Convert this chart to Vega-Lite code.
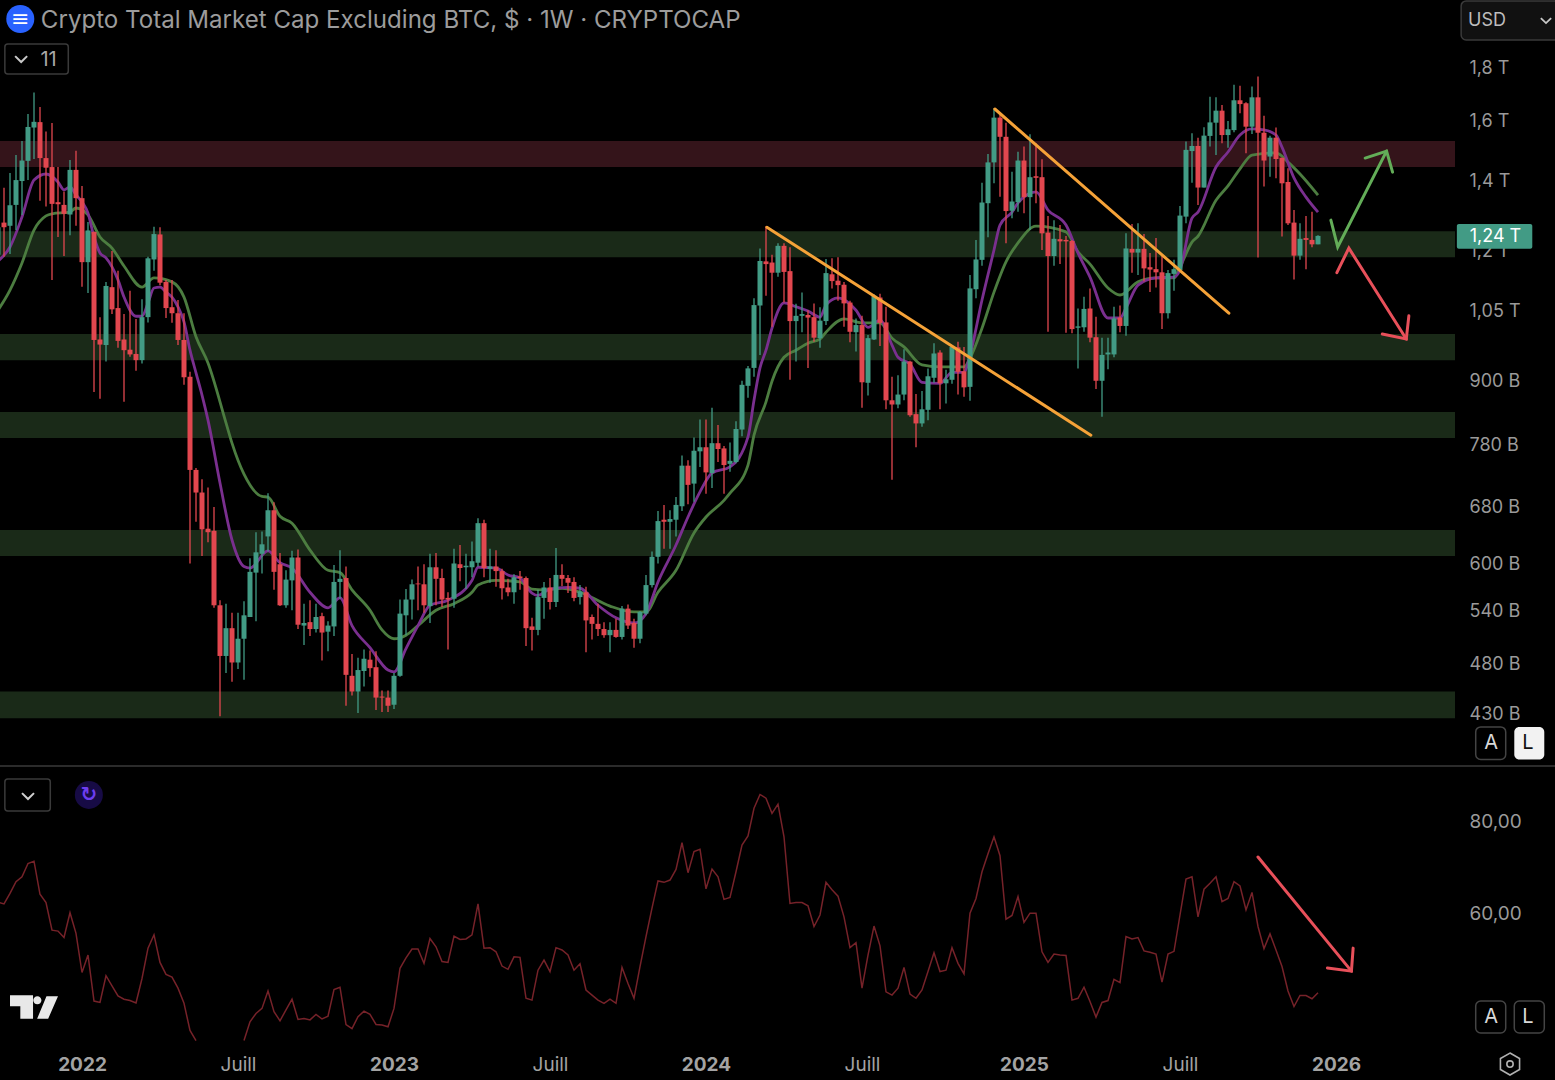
{
"$schema":"https://vega.github.io/schema/vega-lite/v6.json",
"width":1555,"height":1080,"autosize":{"type":"none"},"padding":0,"background":"#000000",
"datasets":{
"candles":[
{"d":"2021-09-27","o":1187,"h":1311,"l":1145,"c":1262,"rsi":62.3},
{"d":"2021-10-04","o":1275,"h":1377,"l":1182,"c":1262,"rsi":61.9},
{"d":"2021-10-11","o":1266,"h":1423,"l":1189,"c":1325,"rsi":64.2},
{"d":"2021-10-18","o":1326,"h":1481,"l":1254,"c":1401,"rsi":66.75},
{"d":"2021-10-25","o":1398,"h":1528,"l":1297,"c":1463,"rsi":67.8},
{"d":"2021-11-01","o":1462,"h":1622,"l":1401,"c":1576,"rsi":70.7},
{"d":"2021-11-08","o":1574,"h":1701,"l":1468,"c":1594,"rsi":71.2},
{"d":"2021-11-15","o":1593,"h":1647,"l":1338,"c":1471,"rsi":64.0},
{"d":"2021-11-22","o":1471,"h":1560,"l":1321,"c":1440,"rsi":62.2},
{"d":"2021-11-29","o":1442,"h":1590,"l":1123,"c":1329,"rsi":56.2},
{"d":"2021-12-06","o":1334,"h":1442,"l":1235,"c":1328,"rsi":56.0},
{"d":"2021-12-13","o":1326,"h":1366,"l":1184,"c":1300,"rsi":54.6},
{"d":"2021-12-20","o":1298,"h":1465,"l":1240,"c":1433,"rsi":60.0},
{"d":"2021-12-27","o":1433,"h":1495,"l":1266,"c":1346,"rsi":55.5},
{"d":"2022-01-03","o":1346,"h":1383,"l":1106,"c":1168,"rsi":47.0},
{"d":"2022-01-10","o":1168,"h":1277,"l":1091,"c":1253,"rsi":50.8},
{"d":"2022-01-17","o":1249,"h":1250,"l":876,"c":983,"rsi":40.8},
{"d":"2022-01-24","o":984,"h":1034,"l":863,"c":973,"rsi":40.5},
{"d":"2022-01-31","o":972,"h":1118,"l":937,"c":1108,"rsi":46.3},
{"d":"2022-02-07","o":1105,"h":1197,"l":1041,"c":1052,"rsi":44.1},
{"d":"2022-02-14","o":1055,"h":1146,"l":966,"c":981,"rsi":41.9},
{"d":"2022-02-21","o":984,"h":1041,"l":857,"c":961,"rsi":41.2},
{"d":"2022-02-28","o":962,"h":1096,"l":947,"c":952,"rsi":40.9},
{"d":"2022-03-07","o":953,"h":1030,"l":918,"c":940,"rsi":40.4},
{"d":"2022-03-14","o":940,"h":1076,"l":933,"c":1034,"rsi":45.7},
{"d":"2022-03-21","o":1034,"h":1182,"l":1022,"c":1178,"rsi":52.3},
{"d":"2022-03-28","o":1175,"h":1263,"l":1146,"c":1243,"rsi":55.2},
{"d":"2022-04-04","o":1242,"h":1262,"l":1110,"c":1116,"rsi":49.2},
{"d":"2022-04-11","o":1118,"h":1123,"l":1032,"c":1055,"rsi":46.6},
{"d":"2022-04-18","o":1057,"h":1123,"l":1021,"c":1043,"rsi":46.0},
{"d":"2022-04-25","o":1043,"h":1074,"l":972,"c":983,"rsi":43.6},
{"d":"2022-05-02","o":983,"h":1043,"l":890,"c":905,"rsi":40.3},
{"d":"2022-05-09","o":906,"h":916,"l":599,"c":737,"rsi":34.4},
{"d":"2022-05-16","o":737,"h":740,"l":657,"c":701,"rsi":32.2},
{"d":"2022-05-23","o":701,"h":722,"l":609,"c":646,"rsi":null},
{"d":"2022-05-30","o":647,"h":709,"l":628,"c":642,"rsi":null},
{"d":"2022-06-06","o":644,"h":679,"l":543,"c":546,"rsi":null},
{"d":"2022-06-13","o":546,"h":552,"l":427,"c":488,"rsi":null},
{"d":"2022-06-20","o":488,"h":548,"l":470,"c":519,"rsi":null},
{"d":"2022-06-27","o":519,"h":537,"l":461,"c":481,"rsi":null},
{"d":"2022-07-04","o":481,"h":537,"l":474,"c":507,"rsi":null},
{"d":"2022-07-11","o":507,"h":551,"l":463,"c":534,"rsi":32.2},
{"d":"2022-07-18","o":532,"h":606,"l":532,"c":588,"rsi":36.3},
{"d":"2022-07-25","o":587,"h":642,"l":527,"c":614,"rsi":38.1},
{"d":"2022-08-01","o":612,"h":643,"l":586,"c":625,"rsi":39.2},
{"d":"2022-08-08","o":636,"h":700,"l":615,"c":674,"rsi":43.0},
{"d":"2022-08-15","o":674,"h":686,"l":565,"c":588,"rsi":38.5},
{"d":"2022-08-22","o":598,"h":613,"l":545,"c":546,"rsi":36.5},
{"d":"2022-08-29","o":546,"h":590,"l":543,"c":578,"rsi":38.9},
{"d":"2022-09-05","o":577,"h":616,"l":540,"c":607,"rsi":41.2},
{"d":"2022-09-12","o":607,"h":618,"l":518,"c":523,"rsi":36.8},
{"d":"2022-09-19","o":522,"h":548,"l":500,"c":525,"rsi":37.0},
{"d":"2022-09-26","o":526,"h":552,"l":510,"c":518,"rsi":36.7},
{"d":"2022-10-03","o":518,"h":548,"l":514,"c":532,"rsi":37.9},
{"d":"2022-10-10","o":533,"h":537,"l":483,"c":514,"rsi":36.9},
{"d":"2022-10-17","o":515,"h":527,"l":493,"c":522,"rsi":37.5},
{"d":"2022-10-24","o":521,"h":597,"l":510,"c":575,"rsi":43.3},
{"d":"2022-10-31","o":575,"h":617,"l":554,"c":579,"rsi":43.8},
{"d":"2022-11-07","o":580,"h":595,"l":437,"c":468,"rsi":35.7},
{"d":"2022-11-14","o":467,"h":490,"l":447,"c":451,"rsi":34.8},
{"d":"2022-11-21","o":451,"h":486,"l":430,"c":473,"rsi":37.4},
{"d":"2022-11-28","o":472,"h":495,"l":456,"c":485,"rsi":38.6},
{"d":"2022-12-05","o":484,"h":494,"l":466,"c":475,"rsi":37.9},
{"d":"2022-12-12","o":476,"h":493,"l":433,"c":445,"rsi":35.7},
{"d":"2022-12-19","o":446,"h":452,"l":431,"c":445,"rsi":35.6},
{"d":"2022-12-26","o":445,"h":452,"l":431,"c":437,"rsi":35.2},
{"d":"2023-01-02","o":438,"h":470,"l":434,"c":467,"rsi":39.2},
{"d":"2023-01-09","o":467,"h":553,"l":466,"c":536,"rsi":47.9},
{"d":"2023-01-16","o":534,"h":566,"l":511,"c":553,"rsi":50.2},
{"d":"2023-01-23","o":553,"h":578,"l":529,"c":572,"rsi":52.1},
{"d":"2023-01-30","o":573,"h":595,"l":540,"c":572,"rsi":52.1},
{"d":"2023-02-06","o":572,"h":598,"l":537,"c":546,"rsi":49.0},
{"d":"2023-02-13","o":545,"h":612,"l":525,"c":594,"rsi":54.4},
{"d":"2023-02-20","o":594,"h":613,"l":546,"c":579,"rsi":52.6},
{"d":"2023-02-27","o":580,"h":592,"l":544,"c":553,"rsi":49.4},
{"d":"2023-03-06","o":555,"h":562,"l":495,"c":553,"rsi":49.2},
{"d":"2023-03-13","o":554,"h":619,"l":543,"c":599,"rsi":54.9},
{"d":"2023-03-20","o":598,"h":624,"l":576,"c":593,"rsi":54.2},
{"d":"2023-03-27","o":594,"h":612,"l":566,"c":596,"rsi":54.3},
{"d":"2023-04-03","o":594,"h":629,"l":581,"c":602,"rsi":55.2},
{"d":"2023-04-10","o":600,"h":662,"l":595,"c":655,"rsi":61.9},
{"d":"2023-04-17","o":655,"h":660,"l":581,"c":593,"rsi":52.3},
{"d":"2023-04-24","o":592,"h":619,"l":574,"c":595,"rsi":52.4},
{"d":"2023-05-01","o":595,"h":617,"l":569,"c":589,"rsi":51.5},
{"d":"2023-05-08","o":589,"h":592,"l":553,"c":567,"rsi":48.4},
{"d":"2023-05-15","o":568,"h":579,"l":557,"c":562,"rsi":47.7},
{"d":"2023-05-22","o":562,"h":585,"l":548,"c":581,"rsi":50.4},
{"d":"2023-05-29","o":582,"h":589,"l":565,"c":580,"rsi":50.3},
{"d":"2023-06-05","o":580,"h":582,"l":499,"c":519,"rsi":41.4},
{"d":"2023-06-12","o":521,"h":531,"l":494,"c":517,"rsi":41.0},
{"d":"2023-06-19","o":517,"h":565,"l":511,"c":556,"rsi":47.5},
{"d":"2023-06-26","o":555,"h":575,"l":530,"c":568,"rsi":49.7},
{"d":"2023-07-03","o":568,"h":580,"l":541,"c":550,"rsi":47.2},
{"d":"2023-07-10","o":550,"h":620,"l":544,"c":584,"rsi":52.4},
{"d":"2023-07-17","o":584,"h":598,"l":570,"c":579,"rsi":51.9},
{"d":"2023-07-24","o":580,"h":584,"l":561,"c":574,"rsi":50.8},
{"d":"2023-07-31","o":575,"h":581,"l":551,"c":555,"rsi":47.5},
{"d":"2023-08-07","o":556,"h":571,"l":547,"c":563,"rsi":48.9},
{"d":"2023-08-14","o":562,"h":569,"l":492,"c":528,"rsi":43.2},
{"d":"2023-08-21","o":532,"h":535,"l":506,"c":524,"rsi":42.1},
{"d":"2023-08-28","o":524,"h":548,"l":510,"c":518,"rsi":41.0},
{"d":"2023-09-04","o":518,"h":526,"l":508,"c":511,"rsi":40.3},
{"d":"2023-09-11","o":511,"h":526,"l":492,"c":517,"rsi":41.2},
{"d":"2023-09-18","o":517,"h":530,"l":508,"c":509,"rsi":40.3},
{"d":"2023-09-25","o":509,"h":545,"l":506,"c":542,"rsi":48.1},
{"d":"2023-10-02","o":542,"h":547,"l":518,"c":522,"rsi":44.6},
{"d":"2023-10-09","o":525,"h":530,"l":497,"c":507,"rsi":41.4},
{"d":"2023-10-16","o":507,"h":539,"l":502,"c":538,"rsi":48.3},
{"d":"2023-10-23","o":536,"h":584,"l":534,"c":571,"rsi":54.8},
{"d":"2023-10-30","o":571,"h":615,"l":568,"c":608,"rsi":61.0},
{"d":"2023-11-06","o":608,"h":673,"l":599,"c":658,"rsi":66.9},
{"d":"2023-11-13","o":660,"h":682,"l":619,"c":657,"rsi":66.6},
{"d":"2023-11-20","o":657,"h":674,"l":619,"c":661,"rsi":67.1},
{"d":"2023-11-27","o":660,"h":694,"l":636,"c":682,"rsi":69.4},
{"d":"2023-12-04","o":680,"h":761,"l":673,"c":744,"rsi":75.2},
{"d":"2023-12-11","o":744,"h":753,"l":683,"c":713,"rsi":68.7},
{"d":"2023-12-18","o":715,"h":792,"l":687,"c":769,"rsi":73.3},
{"d":"2023-12-25","o":768,"h":824,"l":742,"c":775,"rsi":73.8},
{"d":"2024-01-01","o":775,"h":824,"l":699,"c":733,"rsi":65.2},
{"d":"2024-01-08","o":732,"h":846,"l":708,"c":782,"rsi":69.5},
{"d":"2024-01-15","o":782,"h":814,"l":750,"c":772,"rsi":67.8},
{"d":"2024-01-22","o":773,"h":777,"l":699,"c":745,"rsi":62.9},
{"d":"2024-01-29","o":747,"h":783,"l":734,"c":752,"rsi":63.3},
{"d":"2024-02-05","o":750,"h":821,"l":748,"c":807,"rsi":68.9},
{"d":"2024-02-12","o":806,"h":898,"l":794,"c":890,"rsi":74.7},
{"d":"2024-02-19","o":888,"h":928,"l":865,"c":923,"rsi":76.7},
{"d":"2024-02-26","o":924,"h":1078,"l":906,"c":1062,"rsi":82.7},
{"d":"2024-03-04","o":1061,"h":1204,"l":951,"c":1171,"rsi":85.7},
{"d":"2024-03-11","o":1170,"h":1265,"l":1084,"c":1163,"rsi":84.9},
{"d":"2024-03-18","o":1167,"h":1187,"l":1012,"c":1141,"rsi":81.6},
{"d":"2024-03-25","o":1141,"h":1218,"l":1131,"c":1211,"rsi":83.6},
{"d":"2024-04-01","o":1211,"h":1218,"l":1068,"c":1143,"rsi":76.5},
{"d":"2024-04-08","o":1145,"h":1207,"l":900,"c":1025,"rsi":62.0},
{"d":"2024-04-15","o":1025,"h":1065,"l":937,"c":1037,"rsi":62.2},
{"d":"2024-04-22","o":1037,"h":1092,"l":1000,"c":1041,"rsi":62.2},
{"d":"2024-04-29","o":1039,"h":1050,"l":924,"c":1033,"rsi":61.5},
{"d":"2024-05-06","o":1034,"h":1066,"l":979,"c":988,"rsi":57.0},
{"d":"2024-05-13","o":987,"h":1057,"l":966,"c":1026,"rsi":59.5},
{"d":"2024-05-20","o":1025,"h":1176,"l":1016,"c":1140,"rsi":66.6},
{"d":"2024-05-27","o":1137,"h":1178,"l":1102,"c":1120,"rsi":65.0},
{"d":"2024-06-03","o":1121,"h":1181,"l":1072,"c":1110,"rsi":63.6},
{"d":"2024-06-10","o":1111,"h":1118,"l":1012,"c":1066,"rsi":59.1},
{"d":"2024-06-17","o":1068,"h":1072,"l":978,"c":1001,"rsi":52.4},
{"d":"2024-06-24","o":1000,"h":1031,"l":958,"c":1016,"rsi":53.5},
{"d":"2024-07-01","o":1016,"h":1037,"l":846,"c":895,"rsi":43.6},
{"d":"2024-07-08","o":894,"h":994,"l":869,"c":987,"rsi":50.8},
{"d":"2024-07-15","o":984,"h":1088,"l":983,"c":1084,"rsi":57.1},
{"d":"2024-07-22","o":1080,"h":1089,"l":970,"c":1021,"rsi":52.8},
{"d":"2024-07-29","o":1022,"h":1058,"l":843,"c":860,"rsi":42.8},
{"d":"2024-08-05","o":860,"h":906,"l":721,"c":852,"rsi":42.1},
{"d":"2024-08-12","o":852,"h":909,"l":845,"c":871,"rsi":43.6},
{"d":"2024-08-19","o":871,"h":963,"l":860,"c":937,"rsi":48.1},
{"d":"2024-08-26","o":937,"h":939,"l":829,"c":832,"rsi":42.3},
{"d":"2024-09-02","o":834,"h":872,"l":775,"c":817,"rsi":41.4},
{"d":"2024-09-09","o":817,"h":878,"l":811,"c":843,"rsi":43.2},
{"d":"2024-09-16","o":842,"h":923,"l":823,"c":907,"rsi":47.2},
{"d":"2024-09-23","o":904,"h":976,"l":894,"c":954,"rsi":51.3},
{"d":"2024-09-30","o":956,"h":961,"l":843,"c":893,"rsi":47.2},
{"d":"2024-10-07","o":893,"h":920,"l":854,"c":901,"rsi":47.5},
{"d":"2024-10-14","o":900,"h":972,"l":892,"c":968,"rsi":52.4},
{"d":"2024-10-21","o":967,"h":979,"l":871,"c":916,"rsi":49.0},
{"d":"2024-10-28","o":917,"h":968,"l":867,"c":885,"rsi":46.7},
{"d":"2024-11-04","o":886,"h":1135,"l":859,"c":1102,"rsi":59.9},
{"d":"2024-11-11","o":1100,"h":1227,"l":1078,"c":1175,"rsi":63.1},
{"d":"2024-11-18","o":1174,"h":1393,"l":1159,"c":1333,"rsi":68.9},
{"d":"2024-11-25","o":1331,"h":1484,"l":1234,"c":1457,"rsi":72.8},
{"d":"2024-12-02","o":1457,"h":1643,"l":1391,"c":1609,"rsi":76.5},
{"d":"2024-12-09","o":1609,"h":1618,"l":1350,"c":1542,"rsi":72.4},
{"d":"2024-12-16","o":1542,"h":1591,"l":1218,"c":1308,"rsi":58.6},
{"d":"2024-12-23","o":1309,"h":1427,"l":1287,"c":1336,"rsi":59.4},
{"d":"2024-12-30","o":1334,"h":1492,"l":1306,"c":1463,"rsi":63.5},
{"d":"2025-01-06","o":1463,"h":1509,"l":1302,"c":1349,"rsi":57.9},
{"d":"2025-01-13","o":1349,"h":1551,"l":1254,"c":1410,"rsi":59.9},
{"d":"2025-01-20","o":1413,"h":1520,"l":1331,"c":1408,"rsi":59.9},
{"d":"2025-01-27","o":1410,"h":1467,"l":1200,"c":1245,"rsi":51.5},
{"d":"2025-02-03","o":1247,"h":1294,"l":1001,"c":1184,"rsi":49.2},
{"d":"2025-02-10","o":1184,"h":1282,"l":1159,"c":1230,"rsi":51.0},
{"d":"2025-02-17","o":1229,"h":1268,"l":1163,"c":1223,"rsi":50.8},
{"d":"2025-02-24","o":1227,"h":1238,"l":999,"c":1223,"rsi":50.7},
{"d":"2025-03-03","o":1224,"h":1227,"l":998,"c":1007,"rsi":41.0},
{"d":"2025-03-10","o":1010,"h":1054,"l":923,"c":1013,"rsi":41.4},
{"d":"2025-03-17","o":1011,"h":1082,"l":1001,"c":1053,"rsi":43.8},
{"d":"2025-03-24","o":1054,"h":1102,"l":978,"c":988,"rsi":40.7},
{"d":"2025-03-31","o":989,"h":1035,"l":882,"c":898,"rsi":37.3},
{"d":"2025-04-07","o":898,"h":988,"l":829,"c":951,"rsi":40.5},
{"d":"2025-04-14","o":952,"h":988,"l":921,"c":956,"rsi":40.9},
{"d":"2025-04-21","o":952,"h":1058,"l":946,"c":1031,"rsi":45.5},
{"d":"2025-04-28","o":1033,"h":1061,"l":1000,"c":1014,"rsi":44.8},
{"d":"2025-05-05","o":1014,"h":1245,"l":992,"c":1204,"rsi":54.8},
{"d":"2025-05-12","o":1203,"h":1271,"l":1141,"c":1193,"rsi":54.3},
{"d":"2025-05-19","o":1193,"h":1273,"l":1135,"c":1203,"rsi":54.6},
{"d":"2025-05-26","o":1203,"h":1243,"l":1119,"c":1152,"rsi":51.7},
{"d":"2025-06-02","o":1155,"h":1192,"l":1093,"c":1149,"rsi":51.4},
{"d":"2025-06-09","o":1150,"h":1232,"l":1104,"c":1142,"rsi":51.0},
{"d":"2025-06-16","o":1142,"h":1189,"l":1007,"c":1043,"rsi":44.9},
{"d":"2025-06-23","o":1043,"h":1148,"l":1031,"c":1140,"rsi":51.0},
{"d":"2025-06-30","o":1138,"h":1174,"l":1096,"c":1150,"rsi":51.6},
{"d":"2025-07-07","o":1148,"h":1323,"l":1144,"c":1295,"rsi":59.5},
{"d":"2025-07-14","o":1292,"h":1526,"l":1273,"c":1498,"rsi":67.3},
{"d":"2025-07-21","o":1494,"h":1554,"l":1393,"c":1511,"rsi":67.8},
{"d":"2025-07-28","o":1511,"h":1539,"l":1326,"c":1378,"rsi":59.1},
{"d":"2025-08-04","o":1378,"h":1575,"l":1378,"c":1546,"rsi":65.1},
{"d":"2025-08-11","o":1545,"h":1685,"l":1509,"c":1592,"rsi":66.4},
{"d":"2025-08-18","o":1591,"h":1683,"l":1481,"c":1634,"rsi":67.8},
{"d":"2025-08-25","o":1634,"h":1655,"l":1520,"c":1548,"rsi":62.4},
{"d":"2025-09-01","o":1548,"h":1597,"l":1505,"c":1568,"rsi":63.1},
{"d":"2025-09-08","o":1565,"h":1731,"l":1558,"c":1672,"rsi":66.75},
{"d":"2025-09-15","o":1672,"h":1727,"l":1625,"c":1658,"rsi":65.8},
{"d":"2025-09-22","o":1661,"h":1665,"l":1487,"c":1577,"rsi":60.6},
{"d":"2025-09-29","o":1577,"h":1724,"l":1552,"c":1683,"rsi":64.4},
{"d":"2025-10-06","o":1683,"h":1762,"l":1180,"c":1556,"rsi":57.0},
{"d":"2025-10-13","o":1556,"h":1616,"l":1381,"c":1463,"rsi":52.2},
{"d":"2025-10-20","o":1476,"h":1546,"l":1411,"c":1539,"rsi":55.4},
{"d":"2025-10-27","o":1539,"h":1574,"l":1407,"c":1468,"rsi":51.9},
{"d":"2025-11-03","o":1472,"h":1472,"l":1236,"c":1391,"rsi":48.3},
{"d":"2025-11-10","o":1395,"h":1438,"l":1268,"c":1273,"rsi":43.0},
{"d":"2025-11-17","o":1275,"h":1311,"l":1124,"c":1185,"rsi":39.6},
{"d":"2025-11-24","o":1185,"h":1273,"l":1174,"c":1230,"rsi":42.0},
{"d":"2025-12-01","o":1232,"h":1294,"l":1150,"c":1227,"rsi":42.0},
{"d":"2025-12-08","o":1227,"h":1306,"l":1207,"c":1215,"rsi":41.3},
{"d":"2025-12-15","o":1215,"h":1240,"l":1215,"c":1238,"rsi":42.6}
],
"fast":[
{"d":"2021-09-27","v":1171},{"d":"2021-10-11","v":1208},{"d":"2021-10-25","v":1291},{"d":"2021-11-08","v":1401},{"d":"2021-11-22","v":1420},{"d":"2021-12-06","v":1395},{"d":"2021-12-13","v":1371},{"d":"2021-12-20","v":1380},{"d":"2021-12-27","v":1356},
{"d":"2022-01-03","v":1335},{"d":"2022-01-10","v":1302},{"d":"2022-01-17","v":1235},{"d":"2022-01-24","v":1192},{"d":"2022-01-31","v":1179},{"d":"2022-02-14","v":1123},{"d":"2022-02-21","v":1081},{"d":"2022-03-07","v":1036},{"d":"2022-03-14","v":1036},{"d":"2022-03-21","v":1067},{"d":"2022-03-28","v":1103},{"d":"2022-04-04","v":1105},{"d":"2022-04-11","v":1093},{"d":"2022-04-18","v":1081},{"d":"2022-04-25","v":1058},{"d":"2022-05-02","v":1023},{"d":"2022-05-09","v":961},{"d":"2022-05-16","v":914},{"d":"2022-05-23","v":870},{"d":"2022-05-30","v":823},{"d":"2022-06-13","v":716},{"d":"2022-06-27","v":631},{"d":"2022-07-11","v":595},{"d":"2022-07-18","v":593},{"d":"2022-08-08","v":616},{"d":"2022-08-22","v":600},{"d":"2022-09-05","v":593},{"d":"2022-09-26","v":562},{"d":"2022-10-17","v":543},{"d":"2022-10-31","v":555},{"d":"2022-11-14","v":522},{"d":"2022-12-05","v":497},{"d":"2022-12-26","v":473},
{"d":"2023-01-02","v":471},{"d":"2023-01-16","v":496},{"d":"2023-01-30","v":522},{"d":"2023-02-13","v":546},{"d":"2023-03-06","v":552},{"d":"2023-04-03","v":577},{"d":"2023-04-10","v":594},{"d":"2023-05-01","v":593},{"d":"2023-05-15","v":584},{"d":"2023-05-29","v":580},{"d":"2023-06-12","v":561},{"d":"2023-06-19","v":558},{"d":"2023-07-03","v":566},{"d":"2023-07-24","v":568},{"d":"2023-08-07","v":567},{"d":"2023-08-28","v":546},{"d":"2023-09-18","v":531},{"d":"2023-10-09","v":525},{"d":"2023-10-23","v":536},{"d":"2023-11-06","v":575},{"d":"2023-11-27","v":624},{"d":"2023-12-11","v":664},{"d":"2023-12-25","v":702},
{"d":"2024-01-08","v":732},{"d":"2024-01-29","v":742},{"d":"2024-02-19","v":793},{"d":"2024-02-26","v":860},{"d":"2024-03-04","v":924},{"d":"2024-03-11","v":961},{"d":"2024-03-18","v":1009},{"d":"2024-04-01","v":1067},{"d":"2024-04-15","v":1058},{"d":"2024-04-29","v":1048},{"d":"2024-05-13","v":1034},{"d":"2024-05-20","v":1062},{"d":"2024-06-03","v":1079},{"d":"2024-06-24","v":1050},{"d":"2024-07-08","v":1011},{"d":"2024-07-22","v":1027},{"d":"2024-08-05","v":972},{"d":"2024-08-12","v":946},{"d":"2024-08-26","v":932},{"d":"2024-09-09","v":895},{"d":"2024-09-30","v":893},{"d":"2024-10-14","v":915},{"d":"2024-10-28","v":915},{"d":"2024-11-04","v":951},{"d":"2024-11-18","v":1074},{"d":"2024-12-02","v":1200},{"d":"2024-12-09","v":1268},{"d":"2024-12-23","v":1305},{"d":"2024-12-30","v":1332},
{"d":"2025-01-20","v":1365},{"d":"2025-02-03","v":1311},{"d":"2025-02-24","v":1268},{"d":"2025-03-10","v":1192},{"d":"2025-03-24","v":1130},{"d":"2025-04-14","v":1032},{"d":"2025-04-28","v":1032},{"d":"2025-05-05","v":1055},{"d":"2025-05-19","v":1110},{"d":"2025-06-09","v":1128},{"d":"2025-06-30","v":1130},{"d":"2025-07-07","v":1148},{"d":"2025-07-21","v":1288},{"d":"2025-07-28","v":1305},{"d":"2025-08-18","v":1442},{"d":"2025-09-01","v":1491},{"d":"2025-09-15","v":1548},{"d":"2025-09-29","v":1569},{"d":"2025-10-13","v":1566},{"d":"2025-10-27","v":1548},{"d":"2025-11-03","v":1507},{"d":"2025-11-17","v":1408},{"d":"2025-12-01","v":1349},{"d":"2025-12-15","v":1305}
],
"slow":[
{"d":"2021-09-27","v":1050},{"d":"2021-10-11","v":1098},{"d":"2021-10-25","v":1166},{"d":"2021-11-08","v":1254},{"d":"2021-11-22","v":1294},{"d":"2021-11-29","v":1300},{"d":"2021-12-20","v":1305},{"d":"2021-12-27","v":1317},
{"d":"2022-01-10","v":1297},{"d":"2022-01-24","v":1235},{"d":"2022-02-07","v":1205},{"d":"2022-02-21","v":1158},{"d":"2022-03-14","v":1105},{"d":"2022-03-28","v":1128},{"d":"2022-04-18","v":1118},{"d":"2022-05-02","v":1081},{"d":"2022-05-16","v":990},{"d":"2022-05-30","v":934},{"d":"2022-06-20","v":818},{"d":"2022-06-27","v":782},{"d":"2022-07-11","v":730},{"d":"2022-08-01","v":695},{"d":"2022-08-08","v":694},{"d":"2022-08-22","v":665},{"d":"2022-09-05","v":655},{"d":"2022-09-26","v":617},{"d":"2022-10-17","v":590},{"d":"2022-10-31","v":587},{"d":"2022-11-14","v":565},{"d":"2022-12-05","v":540},{"d":"2022-12-19","v":517},
{"d":"2023-01-02","v":507},{"d":"2023-01-16","v":511},{"d":"2023-01-30","v":522},{"d":"2023-02-20","v":540},{"d":"2023-03-13","v":548},{"d":"2023-04-03","v":562},{"d":"2023-04-10","v":571},{"d":"2023-05-01","v":577},{"d":"2023-05-29","v":575},{"d":"2023-06-12","v":566},{"d":"2023-06-26","v":565},{"d":"2023-07-17","v":567},{"d":"2023-08-07","v":562},{"d":"2023-09-11","v":545},{"d":"2023-10-09","v":538},{"d":"2023-10-23","v":538},{"d":"2023-11-06","v":562},{"d":"2023-11-27","v":590},{"d":"2023-12-18","v":641},
{"d":"2024-01-01","v":664},{"d":"2024-01-22","v":689},{"d":"2024-01-29","v":700},{"d":"2024-02-19","v":745},{"d":"2024-02-26","v":796},{"d":"2024-03-11","v":857},{"d":"2024-03-18","v":897},{"d":"2024-04-01","v":946},{"d":"2024-04-15","v":961},{"d":"2024-04-29","v":976},{"d":"2024-05-13","v":985},{"d":"2024-05-20","v":1000},{"d":"2024-06-10","v":1030},{"d":"2024-07-01","v":1021},{"d":"2024-07-22","v":1021},{"d":"2024-08-05","v":987},{"d":"2024-08-19","v":968},{"d":"2024-09-09","v":930},{"d":"2024-09-30","v":926},{"d":"2024-10-28","v":926},{"d":"2024-11-04","v":944},{"d":"2024-11-18","v":1009},{"d":"2024-12-02","v":1093},{"d":"2024-12-16","v":1169},{"d":"2024-12-30","v":1219},
{"d":"2025-01-20","v":1265},{"d":"2025-02-24","v":1249},{"d":"2025-03-10","v":1195},{"d":"2025-03-24","v":1163},{"d":"2025-04-14","v":1103},{"d":"2025-04-28","v":1086},{"d":"2025-05-19","v":1118},{"d":"2025-06-09","v":1128},{"d":"2025-06-30","v":1128},{"d":"2025-07-07","v":1155},{"d":"2025-07-21","v":1221},{"d":"2025-07-28","v":1237},{"d":"2025-08-18","v":1340},{"d":"2025-09-01","v":1383},{"d":"2025-09-15","v":1436},{"d":"2025-09-29","v":1481},{"d":"2025-10-27","v":1488},{"d":"2025-11-10","v":1458},{"d":"2025-11-24","v":1420},{"d":"2025-12-15","v":1355}
],
"zones":[
{"from":"2021-09-29T08:00:00Z","to":"2026-05-23T20:00:00Z","low":1442,"high":1528,"kind":"resistance"},
{"from":"2021-09-29T08:00:00Z","to":"2026-05-23T20:00:00Z","low":1181,"high":1251,"kind":"support"},
{"from":"2021-09-29T08:00:00Z","to":"2026-05-23T20:00:00Z","low":940,"high":996,"kind":"support"},
{"from":"2021-09-29T08:00:00Z","to":"2026-05-23T20:00:00Z","low":791,"high":838,"kind":"support"},
{"from":"2021-09-29T08:00:00Z","to":"2026-05-23T20:00:00Z","low":609,"high":645,"kind":"support"},
{"from":"2021-09-29T08:00:00Z","to":"2026-05-23T20:00:00Z","low":425,"high":451,"kind":"support"}
],
"trend":[
{"g":"a","d":"2024-03-12","v":1262},{"g":"a","d":"2025-03-25","v":796},
{"g":"b","d":"2024-12-03","v":1640},{"g":"b","d":"2025-09-02","v":1043}
],
"greenArrow":[
{"g":"a","d":"2025-12-30","v":1282},{"g":"a","d":"2026-01-07","v":1208},{"g":"a","d":"2026-03-05","v":1494},
{"g":"b","d":"2026-02-08","v":1471},{"g":"b","d":"2026-03-05","v":1494},{"g":"b","d":"2026-03-12","v":1426}
],
"redArrow":[
{"g":"a","d":"2026-01-06","v":1141},{"g":"a","d":"2026-01-20","v":1205},{"g":"a","d":"2026-03-28","v":985},
{"g":"b","d":"2026-02-28","v":996},{"g":"b","d":"2026-03-28","v":985},{"g":"b","d":"2026-03-31","v":1037}
],
"rsiArrow":[
{"g":"a","d":"2025-10-06","v":72.1},{"g":"a","d":"2026-01-23","v":47.3},
{"g":"b","d":"2025-12-26","v":48.0},{"g":"b","d":"2026-01-23","v":47.3},{"g":"b","d":"2026-01-25","v":52.3}
]
},
"layer":[
{"layer":[
{"data":{"name":"zones"},"mark":{"type":"rect"},
 "encoding":{
  "x":{"field":"from","type":"temporal","scale":{"type":"utc","domain":["2021-09-29T08:00:00Z","2026-09-17T12:00:00Z"],"padding":0},
   "axis":{"values":["2022-01-03","2022-07-04","2023-01-02","2023-07-03","2024-01-01","2024-07-01","2025-01-06","2025-07-07","2026-01-05"],
    "labelExpr":"utcmonth(datum.value)==0?utcyear(datum.value)+'':'Juill'",
    "title":null,"domain":false,"ticks":false,"grid":false,"orient":"bottom","offset":-31,"labelPadding":6,
    "labelFont":"Inter","labelFontSize":19,"labelColor":"#a3a3a3",
    "labelFontWeight":{"condition":{"test":"utcmonth(datum.value)==0","value":"bold"},"value":"normal"}}},
  "x2":{"field":"to"},
  "y":{"field":"low","type":"quantitative","scale":{"type":"log","domain":[382.4,2088.1],"range":[766,0],"nice":false},
   "axis":{"values":[1800,1600,1400,1200,1050,900,780,680,600,540,480,430],
    "labelExpr":"datum.value>=1000?replace(format(datum.value/1000,'.2~f'),'.',',')+' T':datum.value+' B'",
    "title":null,"domain":false,"ticks":false,"grid":false,"orient":"right","offset":-100,"labelPadding":14,"labelOffset":1.5,
    "labelFont":"Inter","labelFontSize":18,"labelColor":"#9a9a9a"}},
  "y2":{"field":"high"},
  "color":{"field":"kind","type":"nominal","scale":{"domain":["resistance","support"],"range":["#34141a","#1a2a18"]},"legend":null}
 }},
{"data":{"values":[{"v":382.4}]},"mark":{"type":"rule","color":"#3a3a3a","strokeWidth":1.5},"encoding":{"y":{"field":"v","type":"quantitative"}}},
{"data":{"name":"slow"},"mark":{"type":"line","color":"#4c7d40","strokeWidth":2.8,"interpolate":"monotone"},
 "encoding":{"x":{"field":"d","type":"temporal"},"y":{"field":"v","type":"quantitative"}}},
{"data":{"name":"fast"},"mark":{"type":"line","color":"#7a2f8f","strokeWidth":2.8,"interpolate":"monotone"},
 "encoding":{"x":{"field":"d","type":"temporal"},"y":{"field":"v","type":"quantitative"}}},
{"data":{"name":"candles"},"mark":{"type":"rule","strokeWidth":1.3},
 "encoding":{"x":{"field":"d","type":"temporal"},"y":{"field":"l","type":"quantitative"},"y2":{"field":"h"},
  "color":{"condition":{"test":"datum.c>=datum.o","value":"#429b85"},"value":"#e2474f"}}},
{"data":{"name":"candles"},"mark":{"type":"bar","size":5},
 "encoding":{"x":{"field":"d","type":"temporal"},"y":{"field":"o","type":"quantitative"},"y2":{"field":"c"},
  "color":{"condition":{"test":"datum.c>=datum.o","value":"#429b85"},"value":"#e2474f"}}},
{"data":{"name":"trend"},"mark":{"type":"line","color":"#f5a238","strokeWidth":3,"strokeCap":"round"},
 "encoding":{"x":{"field":"d","type":"temporal"},"y":{"field":"v","type":"quantitative"},"detail":{"field":"g"}}},
{"data":{"name":"greenArrow"},"mark":{"type":"line","color":"#63ad58","strokeWidth":3,"strokeCap":"round"},
 "encoding":{"x":{"field":"d","type":"temporal"},"y":{"field":"v","type":"quantitative"},"detail":{"field":"g"},"order":{"value":0}}},
{"data":{"name":"redArrow"},"mark":{"type":"line","color":"#e8505a","strokeWidth":3,"strokeCap":"round"},
 "encoding":{"x":{"field":"d","type":"temporal"},"y":{"field":"v","type":"quantitative"},"detail":{"field":"g"},"order":{"value":0}}},
{"data":{"values":[{"from":"2026-05-26","to":"2026-08-22","low":1203,"high":1271}]},"mark":{"type":"rect","color":"#429b85","cornerRadius":2},
 "encoding":{"x":{"field":"from","type":"temporal"},"x2":{"field":"to"},"y":{"field":"low","type":"quantitative"},"y2":{"field":"high"}}},
{"data":{"values":[{"d":"2026-07-10","v":1238,"t":"1,24 T"}]},"mark":{"type":"text","font":"Inter","fontSize":18,"dy":1,"color":"#ffffff"},
 "encoding":{"x":{"field":"d","type":"temporal"},"y":{"field":"v","type":"quantitative"},"text":{"field":"t"}}},
{"data":{"values":[{"d":"2021-10-23","v":2002}]},"mark":{"type":"point","filled":true,"shape":"circle","size":784,"color":"#2962ff","opacity":1},
 "encoding":{"x":{"field":"d","type":"temporal"},"y":{"field":"v","type":"quantitative"}}},
{"data":{"values":[{"d":"2021-10-23","v":2002,"t":"≡"}]},"mark":{"type":"text","font":"DejaVu Sans","fontSize":22,"color":"#ffffff"},
 "encoding":{"x":{"field":"d","type":"temporal"},"y":{"field":"v","type":"quantitative"},"text":{"field":"t"}}},
{"data":{"values":[{"d":"2021-11-16","v":1998,"t":"Crypto Total Market Cap Excluding BTC, $ · 1W · CRYPTOCAP"}]},"mark":{"type":"text","font":"Inter","fontSize":24.1,"align":"left","dy":1,"color":"#9c9c9c"},
 "encoding":{"x":{"field":"d","type":"temporal"},"y":{"field":"v","type":"quantitative"},"text":{"field":"t"}}},
{"data":{"values":[{"from":"2021-10-05","to":"2021-12-18","low":1772,"high":1894}]},"mark":{"type":"rect","fillOpacity":0,"stroke":"#3a3a3a","strokeWidth":1.5,"cornerRadius":3},
 "encoding":{"x":{"field":"from","type":"temporal"},"x2":{"field":"to"},"y":{"field":"low","type":"quantitative"},"y2":{"field":"high"}}},
{"data":{"values":[{"d":"2021-10-17","v":1844},{"d":"2021-10-24","v":1820},{"d":"2021-10-31","v":1844}]},"mark":{"type":"line","color":"#c8c8c8","strokeWidth":2},
 "encoding":{"x":{"field":"d","type":"temporal"},"y":{"field":"v","type":"quantitative"}}},
{"data":{"values":[{"d":"2021-11-25","v":1832,"t":"11"}]},"mark":{"type":"text","font":"Inter","fontSize":20,"dy":1,"color":"#a8a8a8"},
 "encoding":{"x":{"field":"d","type":"temporal"},"y":{"field":"v","type":"quantitative"},"text":{"field":"t"}}},
{"data":{"values":[{"from":"2026-05-31","to":"2026-09-30","low":1911,"high":2084}]},"mark":{"type":"rect","fill":"#111111","stroke":"#3a3a3a","strokeWidth":1.5,"cornerRadius":5},
 "encoding":{"x":{"field":"from","type":"temporal"},"x2":{"field":"to"},"y":{"field":"low","type":"quantitative"},"y2":{"field":"high"}}},
{"data":{"values":[{"d":"2026-06-08","v":1998,"t":"USD"}]},"mark":{"type":"text","font":"Inter","fontSize":18,"align":"left","dy":1,"color":"#bdbdbd"},
 "encoding":{"x":{"field":"d","type":"temporal"},"y":{"field":"v","type":"quantitative"},"text":{"field":"t"}}},
{"data":{"values":[{"d":"2026-09-01","v":2006},{"d":"2026-09-07","v":1984},{"d":"2026-09-13","v":2006}]},"mark":{"type":"line","color":"#c8c8c8","strokeWidth":1.8},
 "encoding":{"x":{"field":"d","type":"temporal"},"y":{"field":"v","type":"quantitative"}}},
{"data":{"values":[{"from":"2026-06-17","to":"2026-07-22","low":388,"high":417}]},"mark":{"type":"rect","fill":"#000000","stroke":"#444444","strokeWidth":1.5,"cornerRadius":5},
 "encoding":{"x":{"field":"from","type":"temporal"},"x2":{"field":"to"},"y":{"field":"low","type":"quantitative"},"y2":{"field":"high"}}},
{"data":{"values":[{"from":"2026-08-01","to":"2026-09-05","low":388,"high":417}]},"mark":{"type":"rect","fill":"#f2f2f2","cornerRadius":5},
 "encoding":{"x":{"field":"from","type":"temporal"},"x2":{"field":"to"},"y":{"field":"low","type":"quantitative"},"y2":{"field":"high"}}},
{"data":{"values":[{"d":"2026-07-05","v":402,"t":"A"}]},"mark":{"type":"text","font":"Inter","fontSize":20,"color":"#d8d8d8"},
 "encoding":{"x":{"field":"d","type":"temporal"},"y":{"field":"v","type":"quantitative"},"text":{"field":"t"}}},
{"data":{"values":[{"d":"2026-08-17","v":402,"t":"L"}]},"mark":{"type":"text","font":"Inter","fontSize":20,"color":"#111111"},
 "encoding":{"x":{"field":"d","type":"temporal"},"y":{"field":"v","type":"quantitative"},"text":{"field":"t"}}}
]},
{"layer":[
{"data":{"name":"candles"},"mark":{"type":"line","color":"#762229","strokeWidth":1.5},
 "encoding":{"x":{"field":"d","type":"temporal"},
  "y":{"field":"rsi","type":"quantitative","scale":{"domain":[32.33,91.67],"range":[1040,767],"nice":false,"zero":false},
   "axis":{"values":[80,60],"labelExpr":"replace(format(datum.value,'.2f'),'.',',')","title":null,"domain":false,"ticks":false,"grid":false,"orient":"right","offset":-100,"labelPadding":14,"labelOffset":0.5,
    "labelFont":"Inter","labelFontSize":19,"labelColor":"#9a9a9a"}}}},
{"data":{"name":"rsiArrow"},"mark":{"type":"line","color":"#e8505a","strokeWidth":3,"strokeCap":"round"},
 "encoding":{"x":{"field":"d","type":"temporal"},"y":{"field":"v","type":"quantitative"},"detail":{"field":"g"},"order":{"value":0}}},
{"data":{"values":[{"from":"2021-10-05","to":"2021-11-27","low":82.1,"high":89.07}]},"mark":{"type":"rect","fillOpacity":0,"stroke":"#3a3a3a","strokeWidth":1.5,"cornerRadius":3},
 "encoding":{"x":{"field":"from","type":"temporal"},"x2":{"field":"to"},"y":{"field":"low","type":"quantitative"},"y2":{"field":"high"}}},
{"data":{"values":[{"d":"2021-10-25","v":86.0},{"d":"2021-11-01","v":84.7},{"d":"2021-11-08","v":86.0}]},"mark":{"type":"line","color":"#d0d0d0","strokeWidth":2},
 "encoding":{"x":{"field":"d","type":"temporal"},"y":{"field":"v","type":"quantitative"}}},
{"data":{"values":[{"d":"2022-01-11","v":85.6}]},"mark":{"type":"point","filled":true,"shape":"circle","size":784,"color":"#170b45","opacity":1},
 "encoding":{"x":{"field":"d","type":"temporal"},"y":{"field":"v","type":"quantitative"}}},
{"data":{"values":[{"d":"2022-01-11","v":85.6,"t":"↻"}]},"mark":{"type":"text","font":"DejaVu Sans","fontSize":20,"fontWeight":"bold","color":"#6d3df0"},
 "encoding":{"x":{"field":"d","type":"temporal"},"y":{"field":"v","type":"quantitative"},"text":{"field":"t"}}},
{"data":{"values":[{"d":"2021-11-08","v":39.5}]},"mark":{"type":"point","filled":true,"shape":"M-1,-.49L-.04,-.49L-.04,.49L-.57,.49L-.57,-.03L-1,-.03ZM.52,-.45L1,-.45L.59,.49L.13,.49ZM-.03,-.28A.17,.17,0,1,0,.31,-.28A.17,.17,0,1,0,-.03,-.28Z","size":2304,"color":"#e8e8e8","opacity":1},
 "encoding":{"x":{"field":"d","type":"temporal"},"y":{"field":"v","type":"quantitative"}}},
{"data":{"values":[{"from":"2026-06-17","to":"2026-07-22","low":33.85,"high":40.8}]},"mark":{"type":"rect","fill":"#000000","stroke":"#444444","strokeWidth":1.5,"cornerRadius":5},
 "encoding":{"x":{"field":"from","type":"temporal"},"x2":{"field":"to"},"y":{"field":"low","type":"quantitative"},"y2":{"field":"high"}}},
{"data":{"values":[{"from":"2026-08-01","to":"2026-09-05","low":33.85,"high":40.8}]},"mark":{"type":"rect","fill":"#000000","stroke":"#444444","strokeWidth":1.5,"cornerRadius":5},
 "encoding":{"x":{"field":"from","type":"temporal"},"x2":{"field":"to"},"y":{"field":"low","type":"quantitative"},"y2":{"field":"high"}}},
{"data":{"values":[{"d":"2026-07-05","v":37.3,"t":"A"}]},"mark":{"type":"text","font":"Inter","fontSize":20,"color":"#d8d8d8"},
 "encoding":{"x":{"field":"d","type":"temporal"},"y":{"field":"v","type":"quantitative"},"text":{"field":"t"}}},
{"data":{"values":[{"d":"2026-08-17","v":37.3,"t":"L"}]},"mark":{"type":"text","font":"Inter","fontSize":20,"color":"#d8d8d8"},
 "encoding":{"x":{"field":"d","type":"temporal"},"y":{"field":"v","type":"quantitative"},"text":{"field":"t"}}},
{"data":{"values":[{"d":"2026-07-27","v":27.1}]},"mark":{"type":"point","filled":false,"shape":"M0,-1L0.87,-0.5L0.87,0.5L0,1L-0.87,0.5L-0.87,-0.5Z","size":484,"strokeWidth":1.6,"color":"#b0b0b0","opacity":1},
 "encoding":{"x":{"field":"d","type":"temporal"},"y":{"field":"v","type":"quantitative"}}},
{"data":{"values":[{"d":"2026-07-27","v":27.1}]},"mark":{"type":"point","filled":false,"shape":"circle","size":40,"strokeWidth":1.6,"color":"#b0b0b0","opacity":1},
 "encoding":{"x":{"field":"d","type":"temporal"},"y":{"field":"v","type":"quantitative"}}}
]}
],
"resolve":{"scale":{"y":"independent"},"axis":{"y":"independent"}},
"config":{"view":{"stroke":null}}
}
